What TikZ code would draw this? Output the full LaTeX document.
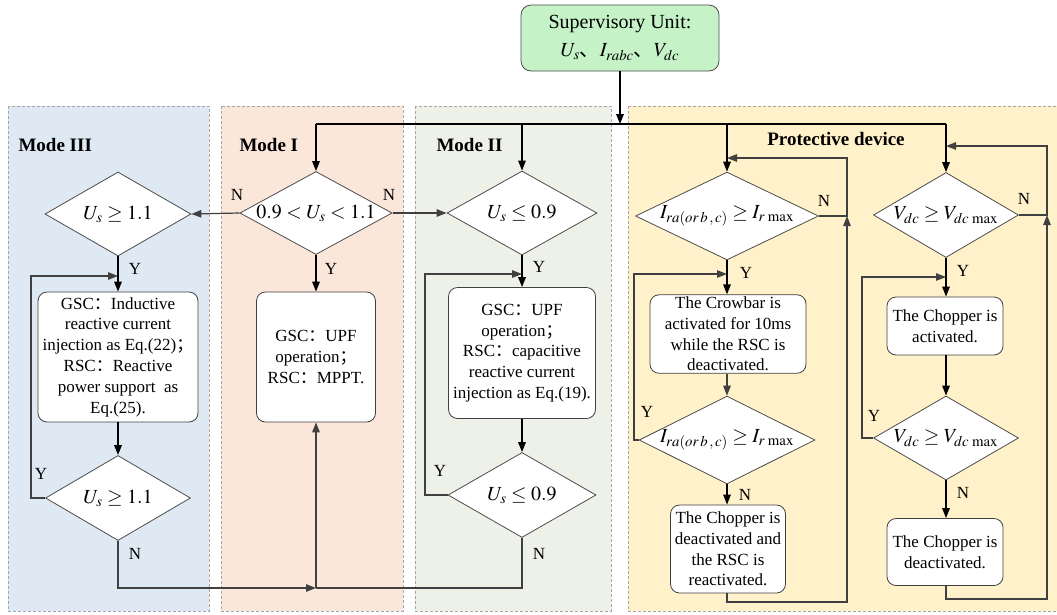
\documentclass[tikz,border=0pt]{standalone}
\usepackage{mathptmx}
\usepackage{fontspec}
\setmainfont{Liberation Serif}
\newfontfamily\cjk{Noto Sans CJK SC}
\usetikzlibrary{arrows.meta,shapes.geometric}
\definecolor{m3fill}{HTML}{DFE9F3}
\definecolor{m1fill}{HTML}{FBE6DA}
\definecolor{m2fill}{HTML}{EEF1E7}
\definecolor{pfill}{HTML}{FFF1C9}
\definecolor{supfill}{HTML}{C6F2C8}
\definecolor{lineg}{HTML}{404040}
\tikzset{
  panel/.style={draw=black!35, dash pattern=on 3pt off 2pt, line width=0.7pt},
  dia/.style={diamond, draw=black!70, fill=white, line width=0.8pt, inner sep=0pt, aspect=2, font=\fontsize{20}{24}\selectfont},
  pbox/.style={draw=black!75, fill=white, rounded corners=9pt, line width=0.8pt, align=center, inner sep=2pt, font=\fontsize{17}{20.8}\selectfont},
  arrow/.style={-{Triangle[length=10pt,width=7.5pt]}, line width=1.5pt, black},
  garrow/.style={-{Triangle[length=10pt,width=7.5pt]}, line width=1.2pt, lineg},
  gline/.style={line width=1.2pt, lineg},
  yn/.style={font=\fontsize{17}{20}\selectfont},
  modelbl/.style={font=\bfseries\fontsize{19}{22}\selectfont}
}
\begin{document}
\begin{tikzpicture}[x=1pt,y=-1pt]
\useasboundingbox (0,0) rectangle (1057,614);
% panels
\draw[panel, fill=m3fill] (8,106) rectangle (209,611);
\draw[panel, fill=m1fill] (221,106) rectangle (403,611);
\draw[panel, fill=m2fill] (415,106) rectangle (611,611);
\draw[panel, fill=pfill] (628,106) rectangle (1062,611);
\node[modelbl, anchor=west] at (15,145) {Mode III};
\node[modelbl, anchor=west] at (236,145) {Mode I};
\node[modelbl, anchor=west] at (433,145) {Mode II};
\node[modelbl] at (836,139) {Protective device};
% supervisory unit
\node[draw=black!70, fill=supfill, rounded corners=10pt, line width=0.8pt, minimum width=198pt, minimum height=66pt, align=center, font=\fontsize{20}{28}\selectfont] (sup) at (620,38) {Supervisory Unit:\\$U_s${\cjk 、}$I_{rabc}${\cjk 、}$V_{dc}$};
\coordinate (bus) at (316,124);
% mode III
\node[dia, minimum width=146pt, minimum height=84pt] (m3a) at (118,214) {$U_s \geq 1.1$};
\node[pbox, minimum width=160pt, minimum height=130pt] (m3b) at (118,357) {GSC{\cjk ：}Inductive\\reactive current\\injection as Eq.(22){\cjk ；}\\RSC{\cjk ：}Reactive\\power support~ as\\Eq.(25).};
\node[dia, minimum width=145pt, minimum height=85pt] (m3c) at (118,498) {$U_s \geq 1.1$};
% mode I
\node[dia, minimum width=151pt, minimum height=83pt] (m1a) at (316,213) {$0.9 < U_s < 1.1$};
\node[pbox, minimum width=119pt, minimum height=130pt] (m1b) at (316,357) {GSC{\cjk ：}UPF\\operation{\cjk ；}\\RSC{\cjk ：}MPPT.};
% mode II
\node[dia, minimum width=150pt, minimum height=84pt] (m2a) at (522,213) {$U_s \leq 0.9$};
\node[pbox, minimum width=147pt, minimum height=131pt] (m2b) at (522,353) {GSC{\cjk ：}UPF\\operation{\cjk ；}\\RSC{\cjk ：}capacitive\\reactive current\\injection as Eq.(19).};
\node[dia, minimum width=148pt, minimum height=85pt] (m2c) at (522,495) {$U_s \leq 0.9$};
% protective device: crowbar
\node[dia, minimum width=183pt, minimum height=85pt] (pa) at (727,216) {$I_{ra(or\,b\,,\,c)} \geq I_{r\,\max}$};
\node[pbox, minimum width=156pt, minimum height=78pt] (pb) at (728,334) {The Crowbar is\\activated for 10ms\\while the RSC is\\deactivated.};
\node[dia, minimum width=171pt, minimum height=84pt] (pc) at (727,440) {$I_{ra(or\,b\,,\,c)} \geq I_{r\,\max}$};
\node[pbox, minimum width=115pt, minimum height=88pt] (pd) at (728,549) {The Chopper is\\deactivated and\\the RSC is\\reactivated.};
% protective device: chopper
\node[dia, minimum width=145pt, minimum height=85pt] (va) at (946,215) {$V_{dc} \geq V_{dc\,\max}$};
\node[pbox, minimum width=116pt, minimum height=58pt] (vb) at (945,326) {The Chopper is\\activated.};
\node[dia, minimum width=145pt, minimum height=84pt] (vc) at (946,438) {$V_{dc} \geq V_{dc\,\max}$};
\node[pbox, minimum width=116pt, minimum height=67pt] (vd) at (945,552) {The Chopper is\\deactivated.};
% bus from supervisory unit
\draw[line width=1.5pt] (m1a |- bus) -- (va |- bus);
\draw[arrow] (sup.south) -- (sup.south |- bus);
\draw[arrow] (m1a |- bus) -- (m1a.north);
\draw[arrow] (m2a |- bus) -- (m2a.north);
\draw[arrow] (pa |- bus) -- (pa.north);
\draw[arrow] (va |- bus) -- (va.north);
% mode flow
\draw[garrow] (m1a.west) -- (m3a.east);
\draw[garrow] (m1a.east) -- (m2a.west);
\node[yn] at (237,195) {N};
\node[yn] at (389,195) {N};
\draw[arrow] (m3a.south) -- (m3b.north);
\draw[arrow] (m3b.south) -- (m3c.north);
\draw[arrow] (m1a.south) -- (m1b.north);
\draw[arrow] (m2a.south) -- (m2b.north);
\draw[arrow] (m2b.south) -- (m2c.north);
\node[yn] at (135,269) {Y};
\node[yn] at (331,269) {Y};
\node[yn] at (539,267) {Y};
\coordinate (m3y) at (31,276);
\draw[garrow] (m3c.west) -| (m3y) -- (m3y -| m3a);
\node[yn] at (41,474) {Y};
\coordinate (m2y) at (425,274);
\draw[garrow] (m2c.west) -| (m2y) -- (m2y -| m2a);
\node[yn] at (440,471) {Y};
\coordinate (m3n) at (118,588);
\draw[garrow] (m3c.south) |- (m1b |- m3n);
\draw[gline] (m2c.south) |- (m1b |- m3n);
\draw[garrow] (m1b |- m3n) -- (m1b.south);
\node[yn] at (135,554) {N};
\node[yn] at (539,554) {N};
% crowbar flow
\draw[arrow] (pa.south) -- (pb.north -| pa);
\draw[garrow] (pb.south -| pa) -- (pc.north);
\draw[arrow] (pc.south) -- (pd.north -| pc);
\node[yn] at (746,273) {Y};
\node[yn] at (745,495) {N};
\coordinate (py) at (634,274);
\draw[garrow] (pc.west) -| (py) -- (py -| pa);
\node[yn] at (647,412) {Y};
\coordinate (pr) at (847,158);
\draw[garrow] (pa.east) -| (pr) -- (pr -| pa);
\node[yn] at (824,201) {N};
\coordinate (pbot) at (847,602);
\draw[garrow] (pd.south -| pc) |- (pbot) -- (pbot |- pa.east);
% chopper flow
\draw[arrow] (va.south) -- (vb.north -| va);
\draw[arrow] (vb.south -| va) -- (vc.north);
\draw[arrow] (vc.south) -- (vd.north -| vc);
\node[yn] at (963,271) {Y};
\node[yn] at (963,493) {N};
\coordinate (vy) at (862,277);
\draw[garrow] (vc.west) -| (vy) -- (vy -| va);
\node[yn] at (874,416) {Y};
\coordinate (vr) at (1047,146);
\draw[garrow] (va.east) -| (vr) -- (vr -| va);
\node[yn] at (1024,199) {N};
\coordinate (vbot) at (1047,599);
\draw[garrow] (vd.south -| vc) |- (vbot) -- (vbot |- va.east);
\end{tikzpicture}
\end{document}
